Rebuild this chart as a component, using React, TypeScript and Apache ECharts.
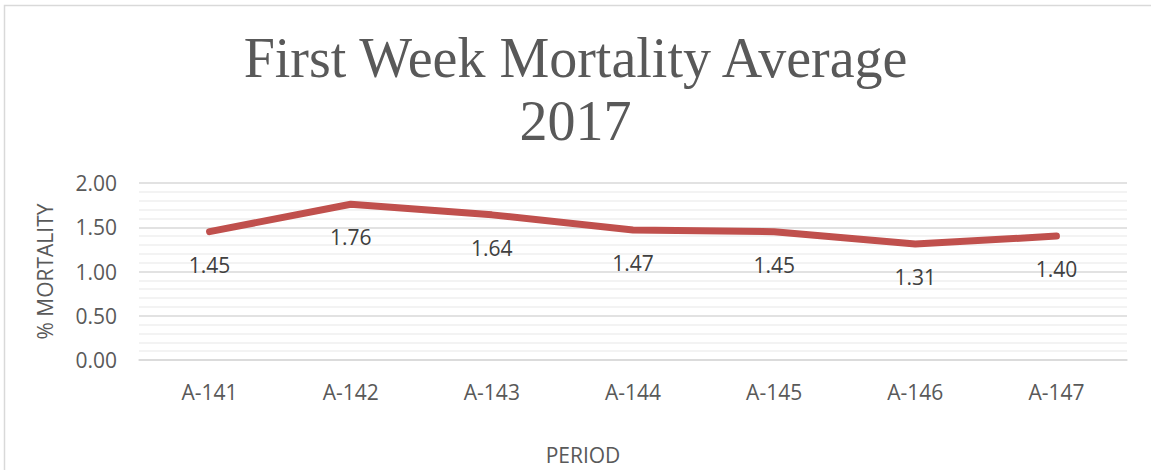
import React, { useEffect, useRef } from "react";
import * as echarts from "echarts";

const categories = ["A-141", "A-142", "A-143", "A-144", "A-145", "A-146", "A-147"];
const mortality = [1.45, 1.76, 1.64, 1.47, 1.45, 1.31, 1.4];
const titleLines = ["First Week Mortality Average", "2017"];
const yAxisName = "% MORTALITY";
const xAxisName = "PERIOD";

export default function App() {
  const ref = useRef<HTMLDivElement>(null);
  useEffect(() => {
    document.body.style.margin = "0";
    const chart = echarts.init(ref.current!, null, { renderer: "svg" });
    const sans = "'Open Sans', sans-serif";
    chart.setOption({
      animation: false,
      backgroundColor: "#ffffff",
      title: {
        text: titleLines.join("\n"),
        left: "center",
        top: 21,
        textStyle: {
          fontFamily: "'Liberation Serif', serif",
          fontSize: 56,
          fontWeight: "normal",
          color: "#595959",
          lineHeight: 63,
        },
      },
      graphic: [
        {
          type: "rect",
          shape: { x: 4.5, y: 5.5, width: 1300, height: 700 },
          style: { fill: "none", stroke: "#d9d9d9", lineWidth: 1.5 },
          silent: true,
        },
      ],
      grid: { left: 139, right: 24, top: 183, bottom: 110 },
      xAxis: {
        type: "category",
        data: categories,
        boundaryGap: true,
        axisLine: { lineStyle: { color: "#d9d9d9", width: 1.5 } },
        axisTick: { show: false },
        axisLabel: { color: "#595959", fontSize: 21, fontFamily: sans, margin: 21 },
        name: xAxisName,
        nameLocation: "middle",
        nameGap: 84,
        nameTextStyle: { color: "#595959", fontSize: 21, fontFamily: sans, padding: [0, 100, 0, 0] },
      },
      yAxis: {
        type: "value",
        min: 0,
        max: 2,
        interval: 0.5,
        axisLine: { show: false },
        axisTick: { show: false },
        axisLabel: {
          color: "#595959",
          fontSize: 21,
          fontFamily: sans,
          margin: 22,
          formatter: (v: number) => v.toFixed(2),
        },
        splitLine: { lineStyle: { color: "#d9d9d9", width: 1.5 } },
        minorTick: { show: false, splitNumber: 5 },
        minorSplitLine: { show: true, lineStyle: { color: "#efefef", width: 1.5 } },
        name: yAxisName,
        nameLocation: "middle",
        nameGap: 84,
        nameTextStyle: { color: "#595959", fontSize: 21, fontFamily: sans },
      },
      series: [
        {
          type: "line",
          data: mortality,
          symbol: "circle",
          symbolSize: 1,
          showSymbol: true,
          itemStyle: { color: "#c0504d", opacity: 0 },
          lineStyle: { color: "#c0504d", width: 7, cap: "round", join: "round" },
          label: {
            show: true,
            position: "bottom",
            distance: 22,
            color: "#404040",
            fontSize: 21,
            fontFamily: sans,
            opacity: 1,
            formatter: (p: any) => Number(p.value).toFixed(2),
          },
        },
      ],
    });
    return () => chart.dispose();
  }, []);
  return <div ref={ref} style={{ width: 1151, height: 470 }} />;
}
